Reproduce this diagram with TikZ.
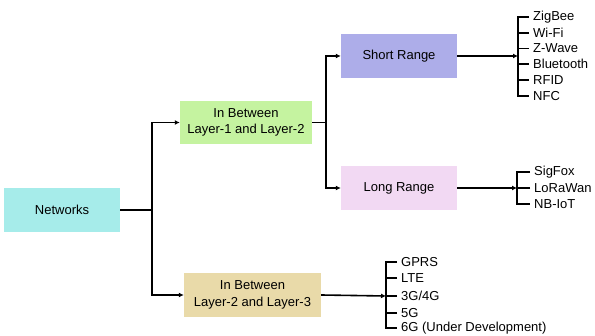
\documentclass[tikz,border=0pt]{standalone}
\usepackage{fontspec}
\setmainfont{Liberation Sans}
\usetikzlibrary{arrows.meta}
\definecolor{netcyan}{HTML}{A6ECEA}
\definecolor{layergreen}{HTML}{C5F3A0}
\definecolor{layertan}{HTML}{E9DAA9}
\definecolor{shortblue}{HTML}{ADADE9}
\definecolor{longpink}{HTML}{F2D9F3}

\begin{document}
\begin{tikzpicture}[x=1pt,y=-1pt,
  box/.style={minimum width=116pt,minimum height=44pt,align=center,inner sep=2pt,font=\fontsize{13}{16.3}\selectfont},
  item/.style={anchor=west,inner xsep=4pt,inner ysep=0pt,font=\fontsize{13}{15}\selectfont},
  bar/.style={line width=1.6pt},
  link/.style={bar,-{Latex[length=5pt,width=5pt]}}]
  \useasboundingbox (0,0) rectangle (595,336);
  % boxes
  \node[box,fill=netcyan] (net) at (62,210) {Networks};
  \node[box,fill=layergreen,minimum width=132pt,minimum height=43pt] (l12) at (246,122.5) {In Between\\Layer-1 and Layer-2};
  \node[box,fill=layertan,minimum width=137pt] (l23) at (252.5,295) {In Between\\Layer-2 and Layer-3};
  \node[box,fill=shortblue] (sr) at (399,56) {Short Range};
  \node[box,fill=longpink] (lr) at (399,188) {Long Range};

  % splits
  \draw[bar] (net.east) -- (152,210) coordinate (nsplit);
  \draw[link] (nsplit) |- (l12.west);
  \draw[link] (nsplit) |- (l23.west);
  \draw[bar] (l12.east) -- (326,122.5) coordinate (lsplit);
  \draw[link] (lsplit) |- (sr.west);
  \draw[link] (lsplit) |- (lr.west);

  % brackets
  \coordinate (sbar) at (518,0);
  \coordinate (lbar) at (517,0);
  \coordinate (gbar) at (386,0);
  \foreach \nm/\yy/\txt in {zb/17/ZigBee,wf/33/Wi-Fi,zw/48.5/Z-Wave,bt/64/Bluetooth,rf/80/RFID,nfc/96/NFC}
    \node[item] (\nm) at (529,\yy) {\txt};
  \foreach \nm/\yy/\txt in {sf/172/SigFox,lw/188/LoRaWan,nb/204/NB-IoT}
    \node[item] (\nm) at (530,\yy) {\txt};
  \foreach \nm/\yy/\txt in {gp/262/GPRS,lte/278/LTE,g34/296/{3G/4G},g5/313/5G,g6/328/6G (Under Development)}
    \node[item] (\nm) at (397,\yy) {\txt};

  \draw[link] (sr.east) -- (sr.east -| sbar);
  \draw[bar] (zb.west) -- (zb.west -| sbar) -- (nfc.west -| sbar) -- (nfc.west);
  \foreach \nm in {wf,zw,bt,rf}
    \draw[bar] (\nm.west) -- (\nm.west -| sbar);

  \draw[link] (lr.east) -- (lr.east -| lbar);
  \draw[bar] (sf.west) -- (sf.west -| lbar) -- (nb.west -| lbar) -- (nb.west);
  \draw[bar] (lw.west) -- (lw.west -| lbar);

  \draw[link] (l23.east) -- (g34.west -| gbar);
  \draw[bar] (gp.west) -- (gp.west -| gbar) -- (g6.west -| gbar) -- (g6.west);
  \foreach \nm in {lte,g34,g5}
    \draw[bar] (\nm.west) -- (\nm.west -| gbar);
\end{tikzpicture}
\end{document}
